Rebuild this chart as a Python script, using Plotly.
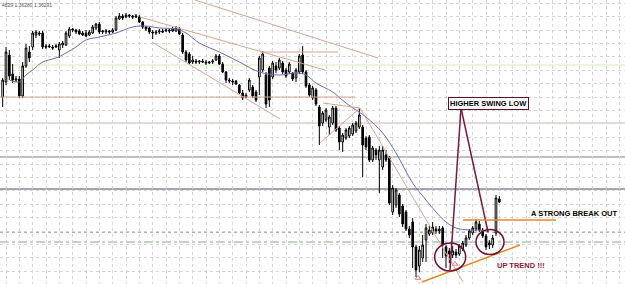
import numpy as np
import plotly.graph_objects as go

BASE = 1.3400
PIP = 0.0001

def pr(v):
    return BASE + np.asarray(v, dtype=float) * PIP

# ---- OHLC data (pips above BASE) ----
open_p = [187,202,229,210,204,205,188,218,232,237, 249,251,251,238,237,237,237,234,239,239,
          248,255,254,253,251,251,249,251,256,260, 252,252,253,252,254,265,268,267,269,268,
          267,267,262,257,256,252,251,252,253,253, 254,253,253,255,249,232,230,222,223,222,
          223,222,221,222,224,228,220,212,204,203, 203,199,191,187,194,197,192,207,214,209,
          216,207,218,216,221,214,212,211,206,212, 229,212,199,186,194,177,161,164,157,161,
          176,156,142,146,148,150,153,157,157,146, 147,124,134,124,117,129,126,72,79,89,
          78,72,55,62,37,18,26,44,50,51, 55,53,56,37,33,29,32,30,35,39,
          46,51,55,60,54,48,41,39,51,85]
high_p = [206,237,234,220,208,208,222,240,238,253, 254,253,253,240,240,239,240,242,243,253,
          257,256,255,255,253,254,254,259,261,262, 254,255,254,256,268,271,270,271,270,269,
          270,269,263,258,257,254,254,255,255,255, 255,257,258,257,251,234,232,228,225,224,
          225,224,223,225,230,230,222,213,206,205, 204,200,194,191,206,199,194,228,233,212,
          218,223,222,226,223,216,222,212,216,230, 238,214,201,198,196,179,173,176,169,178,
          178,158,151,156,158,161,163,176,159,148, 149,138,136,138,138,134,128,99,96,91,
          80,74,58,66,39,38,49,60,58,62, 58,58,58,39,36,38,35,40,43,49,
          55,58,65,63,56,50,44,49,89,88]
low_p = [177,199,204,201,202,186,186,216,222,234, 246,248,235,235,236,234,236,226,236,238,
         246,252,250,249,248,247,248,250,254,250, 250,250,250,251,253,264,264,266,266,265,
         266,261,255,253,250,245,249,250,251,252, 251,252,252,249,230,222,220,220,220,220,
         221,219,220,220,223,219,211,201,201,199, 199,190,184,186,192,186,182,189,212,176,
         177,205,211,214,210,206,210,203,202,210, 210,196,187,184,178,139,158,162,149,159,
         152,134,132,144,146,148,151,155,107,134, 122,122,124,91,114,122,79,69,76,67,
         57,53,46,16,7,12,22,22,48,49, 50,50,26,16,21,26,26,28,33,37,
         44,49,53,52,46,34,35,36,48,81]
close_p = [204,232,208,204,205,188,218,236,226,251, 252,250,237,237,238,236,238,240,241,251,
           255,254,252,250,249,248,252,257,260,252, 253,253,252,254,266,268,266,269,268,267,
           268,262,257,255,252,251,252,253,252,254, 253,255,256,250,232,224,221,224,222,223,
           222,221,222,223,228,220,212,204,203,202, 200,191,186,189,204,188,184,226,230,180,
           184,221,214,224,212,208,220,205,214,228, 212,198,189,196,180,158,171,174,167,176,
           154,142,149,154,156,159,161,169,139,137, 124,136,129,134,134,124,81,96,94,70,
           60,55,49,37,14,34,39,56,54,57, 53,55,39,28,30,33,29,38,41,46,
           53,56,62,54,48,37,39,46,86,82]
bars = list(range(len(open_p)))

# ---- moving average ----
ma_bar = [2,5,7,9,12,16,19,22,25,29,34,39,43,47,52,55,59,65,71,77,83,88,91,94,99,
          103,109,114,118,123,127,130,133,136,140,143,146]
ma_p = [204,202,209,214,222,226,231,237,244,247,251,257,258,256,255,251,241,232,222,212,
        209,211,209,201,192,181,167,151,131,101,84,72,62,56,54,54,52]

# ---- horizontal levels (pips) ----
level_full = [161, 127, 95, 52, 42, 219]
level_full_style = [("#e2b4ac", 1, "solid"), ("#7e7e7e", 1, "solid"), ("#a4a4b4", 2, "solid"),
                    ("#9cc09c", 2, "dot"), ("#86a886", 1, "dashdot"), ("#d8e8b4", 1, "solid")]

# ---- trend lines: (bar0, pips0, bar1, pips1) ----
seg_tan = [(-0.8, 187, 105.7, 187), (77.2, 232, 100.6, 232),
           (41.2, 267, 96.7, 214), (57.7, 284, 112.6, 226), (44.8, 242, 83.2, 165),
           (96.1, 181, 107.2, 176), (95.2, 141, 107.2, 176), (107.2, 176, 138.1, 2)]
seg_maroon = [(137.5, 176, 134.2, 14), (137.5, 176, 145.6, 52)]
seg_orange = [(125.8, 2, 155.2, 39), (138.1, 64, 166.0, 64)]
ellipses = [(129.6, 13, 138.9, 41), (142.0, 29.5, 150.4, 54.5)]
arrow_bar = [124.6, 135.7]
arrow_p = [6, 20]

fig = go.Figure()
fig.add_trace(go.Candlestick(
    x=bars, open=pr(open_p), high=pr(high_p), low=pr(low_p), close=pr(close_p),
    increasing=dict(line=dict(color="#000000", width=1), fillcolor="#ffffff"),
    decreasing=dict(line=dict(color="#000000", width=1), fillcolor="#000000"),
    whiskerwidth=0, showlegend=False, hoverinfo="skip"))
fig.add_trace(go.Scatter(x=ma_bar, y=pr(ma_p), mode="lines",
                         line=dict(color="#6c6cb0", width=1, shape="spline"),
                         showlegend=False, hoverinfo="skip"))
fig.add_trace(go.Scatter(x=arrow_bar, y=pr(arrow_p), mode="markers",
                         marker=dict(symbol="triangle-up-open", size=5, color="#e07878"),
                         showlegend=False, hoverinfo="skip"))

shapes = []
for lv, (c, w, d) in zip(level_full, level_full_style):
    shapes.append(dict(type="line", xref="paper", x0=0, x1=1, yref="y", y0=pr(lv), y1=pr(lv),
                       line=dict(color=c, width=w, dash=d), layer="below"))
for (b0, p0, b1, p1) in seg_tan:
    shapes.append(dict(type="line", xref="x", yref="y", x0=b0, y0=pr(p0), x1=b1, y1=pr(p1),
                       line=dict(color="#d4a494", width=1)))
for (b0, p0, b1, p1) in seg_maroon:
    shapes.append(dict(type="line", xref="x", yref="y", x0=b0, y0=pr(p0), x1=b1, y1=pr(p1),
                       line=dict(color="#7a1840", width=1.5)))
for (b0, p0, b1, p1) in seg_orange:
    shapes.append(dict(type="line", xref="x", yref="y", x0=b0, y0=pr(p0), x1=b1, y1=pr(p1),
                       line=dict(color="#e08a24", width=1.5)))
for (b0, p0, b1, p1) in ellipses:
    shapes.append(dict(type="circle", xref="x", yref="y", x0=b0, y0=pr(p0), x1=b1, y1=pr(p1),
                       line=dict(color="#6e1232", width=1.5)))

annotations = [
    dict(x=145.6, y=pr(181), xref="x", yref="y", text="<b>HIGHER SWING LOW</b>", showarrow=False,
         font=dict(family="Liberation Sans", size=7.5, color="#000000"), bgcolor="#ffffff",
         bordercolor="#5a1030", borderwidth=1, borderpad=1),
    dict(x=157.9, y=pr(71), xref="x", yref="y", xanchor="left", text="<b>A STRONG BREAK OUT</b>",
         showarrow=False, font=dict(family="Liberation Sans", size=7.5, color="#000000")),
    dict(x=147.7, y=pr(19), xref="x", yref="y", xanchor="left", text="<b>UP TREND !!!</b>",
         showarrow=False, font=dict(family="Liberation Sans", size=7.5, color="#8b1a3c")),
    dict(x=0, y=1, xref="paper", yref="paper", xanchor="left", yanchor="top",
         text="4829 1.36280 1.36291", showarrow=False,
         font=dict(family="Liberation Sans", size=5, color="#555555")),
]

grid = dict(showgrid=True, gridcolor="#d4d4d4", gridwidth=1, griddash="dot",
            showticklabels=False, zeroline=False, showline=False, ticks="")
fig.update_layout(
    width=625, height=284, margin=dict(l=0, r=0, t=0, b=0),
    paper_bgcolor="#ffffff", plot_bgcolor="#ffffff",
    xaxis=dict(range=[-0.8, 186.7], tick0=1, dtick=4, rangeslider=dict(visible=False), **grid),
    yaxis=dict(range=[BASE, BASE + 284 * PIP], tick0=BASE + 187 * PIP, dtick=13.4 * PIP, **grid),
    shapes=shapes, annotations=annotations, showlegend=False,
)
fig.write_html("out.html")
